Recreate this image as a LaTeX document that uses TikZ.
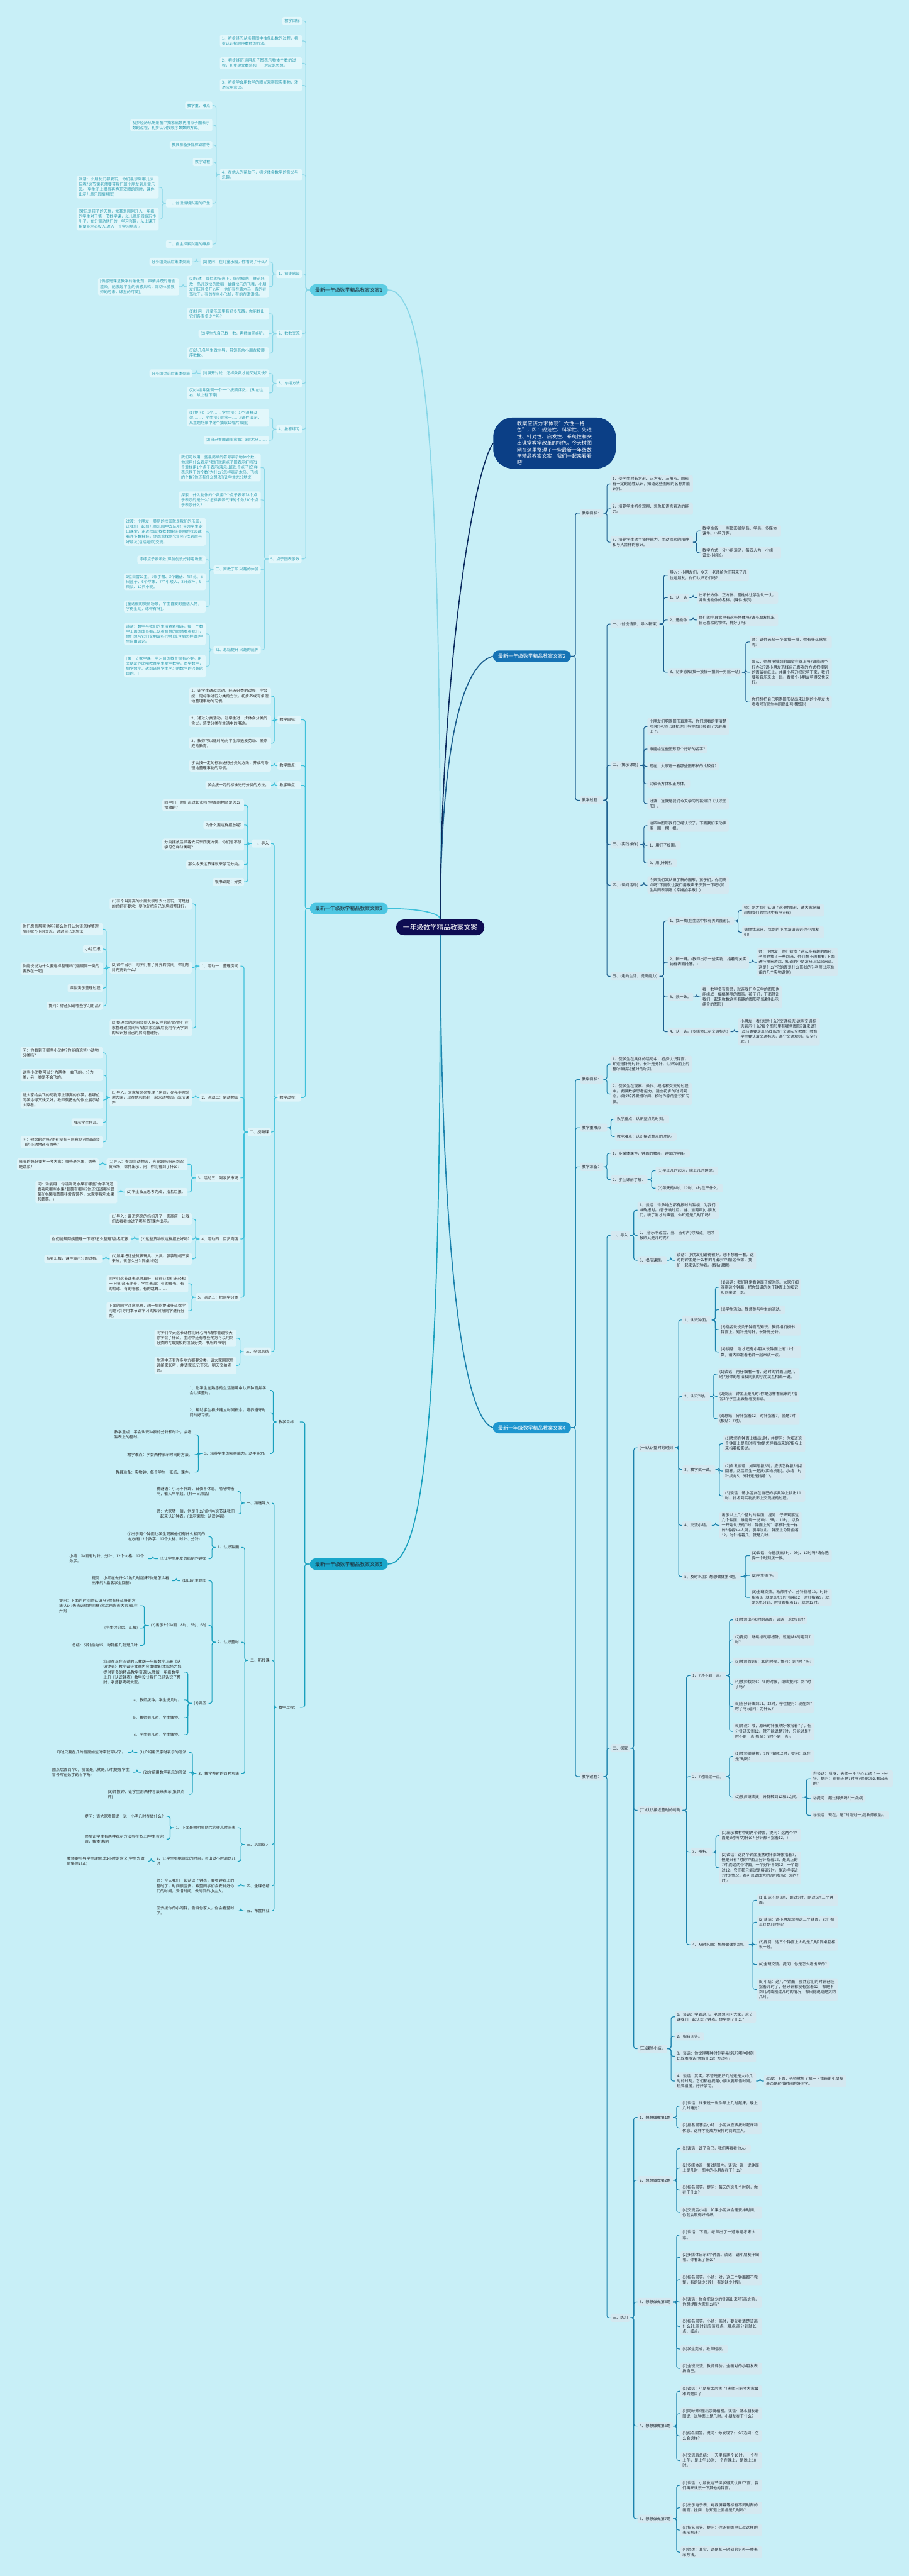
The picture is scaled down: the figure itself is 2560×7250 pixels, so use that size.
\documentclass[tikz,border=0pt]{standalone}
\usepackage{fontspec}
\setmainfont{Noto Sans CJK SC}
\XeTeXlinebreaklocale "zh"
\XeTeXlinebreakskip=0pt plus 1pt
\usetikzlibrary{calc}
\definecolor{bg}{HTML}{C8EFF7}
\definecolor{cnf}{HTML}{0E0C52}
\definecolor{inf}{HTML}{0B3F86}
\definecolor{inl}{HTML}{0A2A5E}
\definecolor{bf1}{HTML}{5CCDE3}
\definecolor{bf3}{HTML}{4CC6E2}
\definecolor{bf5}{HTML}{19A6CA}
\definecolor{bf2}{HTML}{1673B5}
\definecolor{bf4}{HTML}{1E96CF}
\definecolor{l1}{HTML}{88D6E7}
\definecolor{l3}{HTML}{3EC0DA}
\definecolor{l5}{HTML}{19A0BE}
\definecolor{l2}{HTML}{1B5E8E}
\definecolor{l4}{HTML}{1C82AD}
\definecolor{f1}{HTML}{E2F7FB}
\definecolor{t1}{HTML}{2A9BB0}
\definecolor{f3}{HTML}{DFF4F9}
\definecolor{t3}{HTML}{2B2B2B}
\definecolor{t5}{HTML}{262626}
\definecolor{f2}{HTML}{D4E8F0}
\definecolor{t2}{HTML}{1F2A33}
\newcommand\fsm{\fontsize{10.8pt}{14.4pt}\selectfont}
\newcommand\myL[5][]{\node[anchor=east,#1] (#2) at (#3,#4) {#5};}
\newcommand\myR[5][]{\node[anchor=west,#1] (#2) at (#3,#4) {#5};}
\newcommand\lkL[2]{\draw[lk] (#1.west) -- ($(#1.west)!.5!(#1.west -| #2.east)$) |- (#2.east);}
\newcommand\lkR[2]{\draw[lk] (#1.east) -- ($(#1.east)!.5!(#1.east -| #2.west)$) |- (#2.west);}
\begin{document}
\begin{tikzpicture}[x=1pt,y=-1pt,
 box/.style={font=\fsm,rounded corners=5pt,inner xsep=6pt,inner ysep=4.5pt,align=left,minimum height=23pt},
 w/.style={text width=#1pt},
 bnode/.style={font=\fontsize{14pt}{17pt}\selectfont,rounded corners=16pt,inner xsep=15pt,inner ysep=4pt,minimum height=32pt,align=center},
 mainln/.style={line width=3pt}]
\fill[bg] (0,0) rectangle (2560,7250);
\useasboundingbox (0,0) rectangle (2560,7250);

\node[fill=cnf,text=white,font=\fontsize{19pt}{22pt}\selectfont,rounded corners=21pt,minimum width=248pt,minimum height=44pt] (cn) at (1239,2610) {一年级数学精品教案文案};
\node[anchor=west,fill=inf,text=white,font=\fontsize{14pt}{18.5pt}\selectfont,text width=211pt,align=left,inner xsep=67pt,inner ysep=10pt,rounded corners=55pt] (intro) at (1388,1247) {教案应该力求体现"六性一特色"，即：规范性、科学性、先进性、针对性、启发性、系统性和突出课堂教学改革的特色。今天树图网在这里整理了一些最新一年级数学精品教案文案，我们一起来看看吧!};

%% ===== Branch 1 =====
\begin{scope}[every node/.style={box,fill=f1,text=t1},lk/.style={draw=l1,line width=2pt,rounded corners=6pt}]
\node[bnode,fill=bf1,text=t2,anchor=east] (a0) at (1092,816) {最新一年级数学精品教案文案1};
\myL{a1}{850}{59}{教学目标}
\myL[w=219]{a2}{850}{115}{1、初步经历从场景图中抽象出数的过程，初步认识按顺序数数的方法。}
\myL[w=219]{a3}{850}{178}{2、初步经历运用点子图表示物体个数的过程，初步建立数感和一一对应的思想。}
\myL[w=219]{a4}{850}{240}{3、初步学会用数学的眼光观察现实事物，渗透应用意识。}
\myL[w=219]{a5}{850}{492}{4、在他人的帮助下，初步体会数学的意义与乐趣。}
\myL{a6}{850}{771}{1、初步感知}
\myL{a7}{850}{939}{2、数数交流}
\myL{a8}{850}{1079}{3、总结方法}
\myL{a9}{850}{1208}{4、抢答练习}
\myL{a10}{849}{1573}{5、点子图表示数}
\foreach \c in {a1,a2,a3,a4,a5,a6,a7,a8,a9,a10} {\lkL{a0}{\c}}
\myL{a51}{598}{297}{教学重、难点}
\myL[w=219]{a52}{598}{352}{初步经历从场景图中抽象出数再用点子图表示数的过程，初步认识按顺序数数的方式。}
\myL{a53}{598}{408}{教具准备多媒体课件等}
\myL{a54}{598}{456}{教学过程}
\myL{a55}{598}{572}{一、创设情境兴趣的产生}
\myL{a56}{598}{687}{二、自主探索兴趣的维持}
\foreach \c in {a51,a52,a53,a54,a55,a56} {\lkL{a5}{\c}}
\myL[w=219]{a551}{447}{527}{谈话：小朋友们都爱玩，你们最想到哪儿去玩呢?这节课老师要带我们班小朋友到儿童乐园。(学生闭上眼后再睁开双眼的同时，课件出示儿童乐园情境图)}
\myL[w=219]{a552}{447}{617}{[爱玩是孩子的天性，尤其是刚刚升入一年级的学生对于第一节数学课，以儿童乐园游玩作引子，充分调动他们的'学习兴趣，从上课开始便能全心投入,进入一个学习状态]。}
\lkL{a55}{a551}\lkL{a55}{a552}
\myL{a61}{757}{737}{(1)提问：在儿童乐园，你看见了什么?}
\myL{a611}{541}{737}{分小组交流后集体交流}
\myL[w=218]{a62}{757}{807}{(2)描述：灿烂的阳光下，绿树成荫，鲜花怒放，鸟儿欢快的歌唱，蝴蝶快乐的飞舞，小朋友们玩得多开心呀，他们有在骑木马，有的在荡秋千，有的在坐小飞机，有的在滑滑梯。}
\myL[w=216]{a621}{504}{807}{[情感是课堂教学的催化剂，声情并茂的语言渲染，能激起学生的情感共鸣，深切体验教师的可亲，课堂的可爱]。}
\lkL{a6}{a61}\lkL{a6}{a62}\lkL{a61}{a611}\lkL{a62}{a621}
\myL[w=218]{a71}{757}{883}{(1)提问：儿童乐园里有好多东西，你能数出它们各有多少个吗?}
\myL{a72}{757}{939}{(2)学生先自己数一数，再数给同桌听。}
\myL[w=218]{a73}{757}{994}{(3)选几名学生做向导，带领其余小朋友按顺序数数。}
\lkL{a7}{a71}\lkL{a7}{a72}\lkL{a7}{a73}
\myL{a81}{757}{1051}{(1)展开讨论：怎样数数才能又对又快?}
\myL{a811}{541}{1051}{分小组讨论后集体交流}
\myL[w=218]{a82}{757}{1106}{(2)小结并强调一个一个按顺序数。(从左往右，从上往下等)}
\lkL{a8}{a81}\lkL{a8}{a82}\lkL{a81}{a811}
\myL[w=218]{a91}{757}{1176}{(1)提问：1个……学生接：1个滑梯;2架……，学生接2架秋千……(课件演示，从主题场景中逐个抽取10幅片段图)}
\myL{a92}{757}{1239}{(2)自己看图说图意如：3架木马……}
\lkL{a9}{a91}\lkL{a9}{a92}
\myL[w=218]{a101}{734}{1316}{我们可以用一些最简单的符号表示物体个数，你想用什么表示?我们就用点子图表示好吗?1个滑梯用1个点子表示(演示出现1个点子)怎样表示秋千的个数?为什么?怎样表示木马、飞机的个数?你还有什么想法?(让学生充分地说)}
\myL[w=218]{a102}{734}{1407}{探索：什么物体的个数用7个点子表示?8个点子表示的是什么?怎样表示气球的个数?10个点子表示什么?}
\myL{a103}{734}{1603}{三、寓教于乐 兴趣的体验}
\myL{a104}{734}{1829}{四、总结提升 兴趣的延伸}
\foreach \c in {a101,a102,a103,a104} {\lkL{a10}{\c}}
\myL[w=218]{a1031}{579}{1497}{过渡：小朋友，美丽的校园就是我们的乐园，让我们一起到儿童乐园中去玩吧!(带领学生走出课堂，走进校园)找找数娃娃美丽的校园藏着许多数娃娃，你愿意找到它们吗?找到后与好朋友(包括老师)交流。}
\myL{a1032}{579}{1575}{练练点子表示数(课前创设好特定场景)}
\myL[w=218]{a1033}{579}{1637}{1位白雪公主、2条手帕、3个蘑菇、4朵花、5只篮子、6个苹果、7个小矮人、8只茶杯、9只梨、10只小碗。}
\myL[w=218]{a1034}{579}{1707}{[童话般的美丽场景，学生喜爱的童话人物，学得生动，练得有味]。}
\foreach \c in {a1031,a1032,a1033,a1034} {\lkL{a103}{\c}}
\myL[w=218]{a1041}{579}{1784}{谈话：数学与我们的生活紧紧相连，每一个数学王国的成员都正眨着智慧的眼睛看着我们，你们想与它们交朋友吗?你打算今后怎样做?学生自由谈论。}
\myL[w=218]{a1042}{579}{1875}{[第一节数学课，学习目的教育很有必要。用交朋友作比喻教育学生爱学数学，愿学数学，想学数学。达到延伸学生学习的数学的兴趣的目的。]}
\lkL{a104}{a1041}\lkL{a104}{a1042}
\end{scope}

%% ===== Branch 3 =====
\begin{scope}[every node/.style={box,fill=f3,text=t3},lk/.style={draw=l3,line width=2pt,rounded corners=6pt}]
\node[bnode,fill=bf3,text=t2,anchor=east] (c0) at (1092,2557) {最新一年级数学精品教案文案3};
\myL{c1}{847}{2026}{教学目标：}
\myL{c2}{847}{2155}{教学重点：}
\myL{c3}{847}{2210}{教学难点：}
\myL{c4}{847}{3089}{教学过程：}
\foreach \c in {c1,c2,c3,c4} {\lkL{c0}{\c}}
\myL[w=218]{c11}{763}{1959}{1、让学生通过活动，经历分类的过程，学会按一定标准进行分类的方法，初步养成有条理地整理事物的习惯。}
\myL[w=218]{c12}{763}{2029}{2、通过分类活动，让学生进一步体会分类的含义，感受分类在生活中的用途。}
\myL[w=218]{c13}{763}{2092}{3、教师可以适时地向学生渗透爱劳动、爱家庭的教育。}
\foreach \c in {c11,c12,c13} {\lkL{c1}{\c}}
\myL[w=218]{c21}{763}{2155}{学会按一定的标准进行分类的方法，养成有条理地整理事物的习惯。}
\myL{c31}{763}{2210}{学会按一定的标准进行分类的方法。}
\lkL{c2}{c21}\lkL{c3}{c31}
\myL{c41}{763}{2374}{一、导入}
\myL{c42}{763}{3186}{二、授新课}
\myL{c43}{763}{3804}{三、全课总结}
\foreach \c in {c41,c42,c43} {\lkL{c4}{\c}}
\myL[w=218]{c411}{687}{2266}{同学们，你们逛过超市吗?里面的物品是怎么摆放的?}
\myL{c412}{687}{2322}{为什么要这样摆放呢?}
\myL[w=218]{c413}{687}{2377}{分类摆放后顾客去买东西更方便。你们想不想学习怎样分类呢?}
\myL{c414}{687}{2433}{那么今天这节课就来学习分类。}
\myL{c415}{687}{2482}{板书课题：分类}
\foreach \c in {c411,c412,c413,c414,c415} {\lkL{c41}{\c}}
\myL{c421}{677}{2719}{1、活动一：整理房间}
\myL{c422}{677}{3089}{2、活动二：到动物园}
\myL{c423}{677}{3315}{3、活动三：到农贸市场}
\myL{c424}{677}{3487}{4、活动四：百货商店}
\myL{c425}{677}{3651}{5、活动五：把同学分类}
\foreach \c in {c421,c422,c423,c424,c425} {\lkL{c42}{\c}}
\myL[w=219]{c4211}{540}{2544}{(1)有个叫亮亮的小朋友很想去公园玩，可是他的妈妈有要求：要他先把自己的房间整理好。}
\myL[w=219]{c4212}{540}{2723}{(2)课件出示：同学们看了亮亮的房间，你们想对亮亮说什么?}
\myL[w=219]{c4213}{540}{2893}{(3)整理后的房间会给人什么样的感觉?你们在家整理过房间吗?请大家回去后能用今天学到的知识把自己的房间整理好。}
\foreach \c in {c4211,c4212,c4213} {\lkL{c421}{\c}}
\myL[w=219]{c42121}{289}{2615}{你们愿意帮帮他吗?那么你们认为该怎样整理房间呢?(小组交流，说说自己的想法)}
\myL{c42122}{289}{2671}{小组汇报}
\myL[w=219]{c42123}{289}{2726}{你能说说为什么要这样整理吗?(强调同一类的要放在一起)}
\myL{c42124}{289}{2781}{课件演示整理过程}
\myL{c42125}{289}{2831}{提问：你还知道哪些学习用品?}
\foreach \c in {c42121,c42122,c42123,c42124,c42125} {\lkL{c4212}{\c}}
\myL[w=219]{c4221}{540}{3089}{(1)导入。大家帮亮亮整理了房间，亮亮非常感谢大家，现在他和妈妈一起来动物园。出示课件}
\lkL{c422}{c4221}
\myL[w=219]{c42211}{289}{2963}{问：你看到了哪些小动物?你能给这些小动物分类吗?}
\myL[w=219]{c42212}{289}{3026}{这些小动物可以分为两类，会飞的。分为一类，另一类是不会飞的。}
\myL[w=219]{c42213}{289}{3096}{请大家给会飞的动物穿上漂亮的衣裳。看哪位同学涂得又快又好，教师就把他的作业展示给大家看。}
\myL{c42214}{289}{3159}{展示学生作品。}
\myL[w=219]{c42215}{289}{3214}{问：他涂的对吗?你有没有不同意见?你知道会飞的小动物还有哪些?}
\foreach \c in {c42211,c42212,c42213,c42214,c42215} {\lkL{c4221}{\c}}
\myL[w=216]{c4231}{528}{3277}{(1)导入：参观完动物园，亮亮跟妈妈来到农贸市场，课件出示，问：你们看到了什么?}
\myL[w=218]{c42311}{278}{3277}{亮亮的妈妈要考一考大家：哪些是水果，哪些是蔬菜?}
\myL{c4232}{528}{3355}{(2)学生独立思考完成，指名汇报。}
\myL[w=218]{c42321}{330}{3355}{问：谁能用一句话说说水果有哪些?你平时还喜欢吃哪些水果?蔬菜有哪些?你还知道哪些蔬菜?(水果和蔬菜非常有营养，大家要我吃水果和蔬菜。)}
\lkL{c423}{c4231}\lkL{c423}{c4232}\lkL{c4231}{c42311}\lkL{c4232}{c42321}
\myL[w=219]{c4241}{540}{3431}{(1)导入：最近亮亮的妈妈开了一家商店，让我们去看看她进了哪些货?课件出示。}
\myL{c4242}{540}{3487}{(2)这些货物就这样摆放好吗?}
\myL{c42421}{368}{3487}{你们能帮阿姨整理一下吗?怎么整理?指名汇报}
\myL[w=219]{c4243}{540}{3543}{(3)如果把这些货按玩具、文具、服装鞋帽三类来分，该怎么分?(同桌讨论)}
\myL{c42431}{288}{3543}{指名汇报，课件演示分的过程。}
\lkL{c424}{c4241}\lkL{c424}{c4242}\lkL{c424}{c4243}\lkL{c4242}{c42421}\lkL{c4243}{c42431}
\myL[w=218]{c4251}{530}{3613}{同学们这节课表现得真好，现在让我们来轻松一下吧!音乐伴奏，学生表演：有的看书、有的拍球、有的唱歌、有的跳舞……}
\myL[w=218]{c4252}{530}{3689}{下面的同学注意观察，想一想能提出什么数学问题?引导用本节课学习的知识把同学进行分类。}
\lkL{c425}{c4251}\lkL{c425}{c4252}
\myL[w=218]{c431}{665}{3766}{同学们今天这节课你们开心吗?请你说说今天你学会了什么。生活中还有哪些地方可以用到分类的?(如我校的垃圾分类、书店的书等)}
\myL[w=218]{c432}{665}{3843}{生活中还有许多地方都要分类，请大家回家后说给家长听，并请家长记下来，明天交给老师。}
\lkL{c43}{c431}\lkL{c43}{c432}
\end{scope}

%% ===== Branch 5 =====
\begin{scope}[every node/.style={box,text=t5},lk/.style={draw=l5,line width=2pt,rounded corners=6pt}]
\node[bnode,fill=bf5,text=t2,anchor=east] (e0) at (1092,4402) {最新一年级数学精品教案文案5};
\myL{e1}{844}{4002}{教学目标：}
\myL{e2}{844}{4805}{教学过程：}
\lkL{e0}{e1}\lkL{e0}{e2}
\myL[w=220]{e11}{760}{3913}{1、让学生在熟悉的生活情境中认识钟面并学会认读整时。}
\myL[w=220]{e12}{760}{3976}{2、帮助学生初步建立时间概念，培养遵守时间的好习惯。}
\myL{e13}{760}{4091}{3、培养学生的观察能力，动手能力。}
\foreach \c in {e11,e12,e13} {\lkL{e1}{\c}}
\myL[w=220]{e131}{548}{4038}{教学重点：学会认识钟表的分针和时针，会看钟表上的整时。}
\myL{e132}{548}{4094}{教学难点：学会两种表示时间的方法。}
\myL{e133}{548}{4143}{教具准备：实物钟、每个学生一张纸、课件。}
\foreach \c in {e131,e132,e133} {\lkL{e13}{\c}}
\myL{e21}{765}{4230}{一、猜谜导入}
\myL{e22}{765}{4673}{二、新授课}
\myL{e23}{765}{5191}{三、巩固练习}
\myL{e24}{765}{5308}{四、全课总结}
\myL{e25}{765}{5378}{五、布置作业}
\foreach \c in {e21,e22,e23,e24,e25} {\lkL{e2}{\c}}
\myL[w=222]{e211}{669}{4198}{猜谜语：小马不停蹄，日夜不休息。嘀嗒嘀嗒响，催人早早起。(打一日用品)}
\myL[w=222]{e212}{669}{4261}{师：大家猜一猜，他是什么?(时钟)这节课我们一起来认识钟表。(出示课题：认识钟表)}
\lkL{e21}{e211}\lkL{e21}{e212}
\myL{e221}{679}{4355}{1、认识钟面}
\myL{e222}{679}{4622}{2、认识整时}
\myL{e223}{679}{4991}{3、教学整时的两种写法}
\foreach \c in {e221,e222,e223} {\lkL{e22}{\c}}
\myL[w=222]{e2211}{587}{4325}{①出示两个钟面让学生观察他们有什么相同的地方(有12个数字、12个大格、时针、分针)}
\myL{e2212}{587}{4387}{②让学生用发的纸制作钟面}
\myL[w=214]{e22121}{416}{4387}{小结：钟面有时针、分针、12个大格、12个数字。}
\lkL{e221}{e2211}\lkL{e221}{e2212}\lkL{e2212}{e22121}
\myL{e2221}{587}{4449}{(1)出示主题图}
\myL[w=220]{e22211}{485}{4449}{提问：小红在做什么?她几时起床?你是怎么看出来的?(指名学生回答)}
\myL{e2222}{587}{4575}{(2)出示3个钟面：8时、3时、6时}
\myL{e2223}{587}{4794}{(3)巩固}
\foreach \c in {e2221,e2222,e2223} {\lkL{e222}{\c}}
\lkL{e2221}{e22211}
\myL[w=221]{e22221}{394}{4519}{提问：下面的时间你认识吗?你有什么好的方法认识?先告诉你的同桌?然后再告诉大家?现在开始}
\myL{e22222}{394}{4582}{(学生讨论后，汇报)}
\myL{e22223}{394}{4631}{总结：分针指向12，时针指几就是几时}
\foreach \c in {e22221,e22222,e22223} {\lkL{e2222}{\c}}
\myL[w=221]{e22231}{518}{4706}{您现在正在阅读的人教版一年级数学上册《认识钟表》教学设计文章内容由收集!本站将为您提供更多的精品教学资源!人教版一年级数学上册《认识钟表》教学设计我们已经认识了整时，老师要考考大家。}
\myL{e22232}{518}{4784}{a、教师拨钟，学生说几时。}
\myL{e22233}{518}{4834}{b、教师说几时，学生拨钟。}
\myL{e22234}{518}{4882}{c、学生说几时，学生拨钟。}
\foreach \c in {e22231,e22232,e22233,e22234} {\lkL{e2223}{\c}}
\myL{e2231}{531}{4932}{(1)介绍用汉字时表示的写法}
\myL{e22311}{360}{4932}{几时只要在几的后面加些时字就可以了。}
\myL{e2232}{531}{4988}{(2)介绍用数字表示的写法}
\myL[w=221]{e22321}{374}{4988}{圆点后面两个0，前面是几就是几时(提醒学生冒号写在数字的右下角)}
\myL[w=221]{e2233}{531}{5050}{(3)师拨钟，让学生用两种写法来表示(集体点评)}
\foreach \c in {e2231,e2232,e2233} {\lkL{e223}{\c}}
\lkL{e2231}{e22311}\lkL{e2232}{e22321}
\myL{e231}{669}{5144}{1、下面是明明星期六的作息时间表}
\myL[w=224]{e2311}{469}{5112}{提问：请大家看图说一说，小明几时在做什么?}
\myL[w=224]{e2312}{469}{5176}{然后让学生有两种表示方法写在书上(学生写完后，集体讲评)}
\myL[w=222]{e232}{669}{5238}{2、让学生根据给出的时间，写出过小时后是几时}
\myL[w=221]{e2321}{416}{5238}{教师要引导学生理解过1小时的含义(学生先做后集体订正)}
\lkL{e23}{e231}\lkL{e23}{e232}\lkL{e231}{e2311}\lkL{e231}{e2312}\lkL{e232}{e2321}
\myL[w=222]{e241}{669}{5308}{师：今天我们一起认识了钟表，会看钟表上的整时了。时间很宝贵，希望同学们会安排好你们的时间，爱惜时间，做时间的小主人。}
\myL[w=222]{e251}{669}{5378}{回去拨你的小闹钟，告诉你家人，你会看整时了。}
\lkL{e24}{e241}\lkL{e25}{e251}
\end{scope}

%% ===== Branch 2 =====
\begin{scope}[every node/.style={box,fill=f2,text=t2},lk/.style={draw=l2,line width=2pt,rounded corners=6pt}]
\node[bnode,fill=bf2,text=white,anchor=west] (b0) at (1387,1847) {最新一年级数学精品教案文案2};
\myR{b1}{1632}{1444}{教学目标：}
\myR{b2}{1632}{2252}{教学过程：}
\lkR{b0}{b1}\lkR{b0}{b2}
\myR[w=220]{b11}{1718}{1362}{1、使学生对长方形、正方形、三角形、圆形有一定的感性认识，知道这些图形的名称并能识别。}
\myR[w=220]{b12}{1718}{1432}{2、培养学生初步观察、想象和语言表达的能力。}
\myR[w=220]{b13}{1718}{1526}{3、培养学生动手操作能力、主动探索的精神和与人合作的意识。}
\foreach \c in {b11,b12,b13} {\lkR{b1}{\c}}
\myR[w=215]{b131}{1971}{1494}{教学准备：一些图形纸制品、学具、多媒体课件、小剪刀等。}
\myR[w=215]{b132}{1971}{1556}{教学方式：分小组活动，每四人为一小组，设立小组长。}
\lkR{b13}{b131}\lkR{b13}{b132}
\myR{b21}{1718}{1756}{一、(创设情景，导入新课)}
\myR{b22}{1718}{2154}{二、(揭示课题)}
\myR{b23}{1718}{2377}{三、(实践操作)}
\myR{b24}{1718}{2491}{四、(课间活动)}
\myR{b25}{1718}{2748}{五、(走向生活，提高能力)}
\foreach \c in {b21,b22,b23,b24,b25} {\lkR{b2}{\c}}
\myR[w=217]{b211}{1879}{1619}{导入：小朋友们，今天，老师给你们带来了几位老朋友，你们认识它们吗?}
\myR{b212}{1879}{1682}{1、认一认}
\myR[w=217]{b2121}{1961}{1682}{出示长方体、正方体、圆柱体让学生认一认，并说出物体的名称。(课件出示)}
\myR{b213}{1879}{1745}{2、选物体}
\myR[w=217]{b2131}{1961}{1745}{你们的学具盒里有这些物体吗?请小朋友挑出自己喜欢的物体，挑好了吗?}
\myR{b214}{1879}{1892}{3、初步感知(摸一摸描一描剪一剪贴一贴)}
\foreach \c in {b211,b212,b213,b214} {\lkR{b21}{\c}}
\lkR{b212}{b2121}\lkR{b213}{b2131}
\myR[w=219]{b2141}{2110}{1807}{师：请你选择一个面摸一摸，你有什么感觉呢?}
\myR[w=219]{b2142}{2110}{1892}{那么，你想把摸到的面留在纸上吗?谁能想个好办法?请小朋友选择自己喜欢的方式把摸到的面留在纸上，并用小剪刀把它剪下来，我们要听音乐来比一比，看哪个小朋友剪得又快又好。}
\myR[w=219]{b2143}{2110}{1976}{你们想把自己剪得图形贴出来让别的小朋友也看看吗?(师生共同贴出剪得图形)}
\foreach \c in {b2141,b2142,b2143} {\lkR{b214}{\c}}
\myR[w=217]{b221}{1822}{2045}{小朋友们剪得图形真漂亮，你们想看的更清楚吗?看!老师已经把你们剪得图形移到了大屏幕上了。}
\myR{b222}{1822}{2108}{谁能给这些图形取个好听的名字?}
\myR{b223}{1822}{2157}{现在，大家看一看那些图形长的比较像?}
\myR{b224}{1822}{2206}{比较长方体和正方体。}
\myR[w=217]{b225}{1822}{2262}{过渡：这就是我们今天学习的新知识《认识图形》。}
\foreach \c in {b221,b222,b223,b224,b225} {\lkR{b22}{\c}}
\myR[w=217]{b231}{1822}{2324}{这四种图形我们已经认识了，下面我们来动手围一围，摆一摆。}
\myR{b232}{1822}{2379}{1、用钉子板围。}
\myR{b233}{1822}{2429}{2、用小棒摆。}
\foreach \c in {b231,b232,b233} {\lkR{b23}{\c}}
\myR[w=217]{b241}{1822}{2491}{今天我们又认识了新的图形，孩子们，你们高兴吗?下面就让我们用歌声来庆贺一下吧!(师生共同表演唱《幸福拍手歌》)}
\lkR{b24}{b241}
\myR{b251}{1879}{2592}{1、找一找(在生活中找有关的图形)。}
\myR[w=219]{b2511}{2088}{2562}{师：刚才我们认识了这4种图形，请大家仔细想想我们的生活中有吗?(有)}
\myR[w=219]{b2512}{2088}{2624}{请你找出来，找到的小朋友请告诉你小朋友们!}
\myR[w=217]{b252}{1879}{2708}{2、辨一辨。(教师出示一些实物，指着有关实物有表面抢答。)}
\myR[w=218]{b2521}{2129}{2708}{师：小朋友，你们都找了这么多有趣的图形，老师也找了一些回来，你们想不想看看?下面进行抢答游戏，知道的小朋友马上站起来说。这是什么?它的面是什么形状的?(老师出示准备的几个实物课件)}
\myR{b253}{1879}{2806}{3、数一数。}
\myR[w=217]{b2531}{1971}{2806}{看，数学多有意思，就连我们今天学的图形也能组成一幅幅美丽的图画，孩子们，下面就让我们一起来数数这些有趣的图形吧!(课件出示组合的图形)}
\myR{b254}{1879}{2904}{4、认一认。(多媒体出示交通标志)}
\myR[w=217]{b2541}{2078}{2904}{小朋友，看!这是什么?(交通标志)这些交通标志表示什么?每个图形里有哪些图形?谁来说?(过马路要走斑马线)(进行交通安全教育：教育学生要认清交通标志，遵守交通规则，安全行驶。)}
\foreach \c in {b251,b252,b253,b254} {\lkR{b25}{\c}}
\lkR{b251}{b2511}\lkR{b251}{b2512}\lkR{b252}{b2521}\lkR{b253}{b2531}\lkR{b254}{b2541}
\end{scope}

%% ===== Branch 4 =====
\begin{scope}[every node/.style={box,fill=f2,text=t2},lk/.style={draw=l4,line width=2pt,rounded corners=6pt}]
\node[bnode,fill=bf4,text=white,anchor=west] (d0) at (1387,4018) {最新一年级数学精品教案文案4};
\myR{d1}{1632}{3038}{教学目标：}
\myR{d2}{1632}{3174}{教学重难点：}
\myR{d3}{1632}{3284}{教学准备：}
\myR{d4}{1632}{5000}{教学过程：}
\foreach \c in {d1,d2,d3,d4} {\lkR{d0}{\c}}
\myR[w=217]{d11}{1718}{2995}{1、使学生在具体的活动中，初步认识钟面，知道短针是时针，长针是分针，认识钟面上的整时和接近整时的时刻。}
\myR[w=217]{d12}{1718}{3079}{2、使学生在观察、操作、概括和交流的过程中，发展数学思考能力，建立初步的时间观念，初步培养爱惜时间、按时作息的意识和习惯。}
\lkR{d1}{d11}\lkR{d1}{d12}
\myR{d21}{1730}{3150}{教学重点：认识整点的时刻。}
\myR{d22}{1730}{3199}{教学难点：认识接近整点的时刻。}
\lkR{d2}{d21}\lkR{d2}{d22}
\myR{d31}{1718}{3246}{1、多媒体课件，钟面的教具，钟面的学具。}
\myR{d32}{1718}{3320}{2、学生课前了解：}
\myR{d321}{1845}{3295}{(1)早上几时起床，晚上几时睡觉。}
\myR{d322}{1845}{3344}{(2)每天的8时、12时、4时在干什么。}
\lkR{d3}{d31}\lkR{d3}{d32}\lkR{d32}{d321}\lkR{d32}{d322}
\myR{d41}{1718}{3477}{一、导入}
\myR{d42}{1718}{4920}{二、探究}
\myR{d43}{1718}{6523}{三、练习}
\foreach \c in {d41,d42,d43} {\lkR{d4}{\c}}
\myR[w=217]{d411}{1794}{3406}{1、谈话：许多地方都有报时的钟楼，为我们准确报时。(音乐响过后，当、当两声)小朋友们，听了刚才的声音，你知道是几时了吗?}
\myR[w=217]{d412}{1794}{3477}{2、(音乐响过后，当、当七声)你知道，刚才报的又是几时呢?}
\myR{d413}{1794}{3547}{3、揭示课题。}
\myR[w=217]{d4131}{1899}{3547}{谈话：小朋友们说得很好。想不想看一看，这时的钟面是什么样的?(出示钟面)这节课，我们一起来认识钟表。(板贴课题)}
\foreach \c in {d411,d412,d413} {\lkR{d41}{\c}}
\lkR{d413}{d4131}
\myR{d421}{1794}{4075}{(一)认识整时的时刻}
\myR{d422}{1794}{5095}{(二)认识接近整时的时刻}
\myR{d423}{1794}{5766}{(三)课堂小结。}
\foreach \c in {d421,d422,d423} {\lkR{d42}{\c}}
\myR{d4211}{1920}{3715}{1、认识钟面。}
\myR{d4212}{1920}{3930}{2、认识7时。}
\myR{d4213}{1920}{4136}{3、教学试一试。}
\myR{d4214}{1920}{4293}{4、交流小结。}
\myR{d4215}{1920}{4437}{5、及时巩固：想想做做第4题。}
\foreach \c in {d4211,d4212,d4213,d4214,d4215} {\lkR{d421}{\c}}
\myR[w=219]{d42111}{2023}{3623}{(1)谈话：我们经常看钟面了解时间。大家仔细观察这个钟面，把你知道的关于钟面上的知识和同桌说一说。}
\myR{d42112}{2023}{3686}{(2)学生活动，教师参与学生的活动。}
\myR[w=219]{d42113}{2023}{3742}{(3)指名说说关于钟面的知识。教师相机板书：钟面上，短针是时针，长针是分针。}
\myR[w=219]{d42114}{2023}{3805}{(4)谈话：刚才还有小朋友说钟面上有12个数，请大家跟着老师一起来读一读。}
\foreach \c in {d42111,d42112,d42113,d42114} {\lkR{d4211}{\c}}
\myR[w=219]{d42121}{2019}{3867}{(1)谈话：再仔细看一看，这时的钟面上是几时?把你的想法和同桌的小朋友互相说一说。}
\myR[w=219]{d42122}{2019}{3930}{(2)交流：钟面上是几时?你是怎样看出来的?指名2个学生上去指着投影说。}
\myR[w=219]{d42123}{2019}{3993}{(3)总结：分针指着12，时针指着7，就是7时(板贴：7时)。}
\foreach \c in {d42121,d42122,d42123} {\lkR{d4212}{\c}}
\myR[w=219]{d42131}{2035}{4063}{(1)教师在钟面上拨出1时，并提问：你知道这个钟面上是几时吗?你是怎样看出来的?指名上来指着投影说。}
\myR[w=219]{d42132}{2035}{4140}{(2)启发谈话：如果想拨5时，应该怎样拨?指名回答，然后师生一起拨(实物投影)。小结：时针拨向5，分针还是指着12。}
\myR[w=219]{d42133}{2035}{4210}{(3)谈话：请小朋友在自己的学具钟上拨出11时。指名到实物投影上交流拨的过程。}
\foreach \c in {d42131,d42132,d42133} {\lkR{d4213}{\c}}
\myR[w=219]{d42141}{2025}{4293}{出示以上几个整时的钟面，提问：仔细观察这几个钟面，谁能说一说1时、5时、11时，以及一开始认识的7时，钟面上的'哪根针是一样的?指名3-4人说，引导说出：钟面上分针指着12，时针指着几，就是几时。}
\lkR{d4214}{d42141}
\myR[w=219]{d42151}{2110}{4378}{(1)谈话：你能拨出3时、9时、12时吗?请你选择一个时刻拨一拨。}
\myR{d42152}{2110}{4434}{(2)学生操作。}
\myR[w=219]{d42153}{2110}{4496}{(3)全班交流。教师评价：分针指着12，时针指着3，就是3时;分针指着12，时针指着9，就是9时;分针、时针都指着12，就是12时。}
\foreach \c in {d42151,d42152,d42153} {\lkR{d4215}{\c}}
\myR{d4221}{1943}{4716}{1、7时不到一点。}
\myR{d4222}{1943}{5000}{2、7时刚过一点。}
\myR{d4223}{1943}{5212}{3、辨析。}
\myR{d4224}{1943}{5473}{4、及时巩固：想想做做第3题。}
\foreach \c in {d4221,d4222,d4223,d4224} {\lkR{d422}{\c}}
\myR{d42211}{2063}{4559}{(1)教师出示6时的画面。谈话：这是几时?}
\myR[w=217]{d42212}{2063}{4615}{(2)提问：继续拨动哪根针，就能从6时走到7时?}
\myR[w=217]{d42213}{2063}{4677}{(3)教师拨到6：30的时候，提问：到7时了吗?}
\myR[w=217]{d42214}{2063}{4740}{(4)教师拨到6：45的时候，继续提问：到7时了吗?}
\myR[w=217]{d42215}{2063}{4803}{(5)当分针拨到11、12时，停住提问：现在到7时了吗?追问：为什么?}
\myR[w=217]{d42216}{2063}{4873}{(6)师述：哦，原来时针虽然好像指着7了，但分针还没到12。就不能说是7时，只能说是7时不到一点(板贴：7时不到一点)。}
\foreach \c in {d42211,d42212,d42213,d42214,d42215,d42216} {\lkR{d4221}{\c}}
\myR[w=217]{d42221}{2063}{4943}{(1)教师继续拨，分针指向12时，提问：现在是7时吗?}
\myR{d42222}{2063}{5058}{(2)教师继续拨，分针转到12和1之间。}
\lkR{d4222}{d42221}\lkR{d4222}{d42222}
\myR[w=219]{d422221}{2282}{5006}{①谈话：哎呀，老师一不小心又动了一下分针。提问：现在还是7时吗?你是怎么看出来的?}
\myR{d422222}{2282}{5062}{②提问：超过得多吗?(一点点)}
\myR{d422223}{2282}{5109}{③谈话：现在，是7时刚过一点(教师板贴)。}
\foreach \c in {d422221,d422222,d422223} {\lkR{d42222}{\c}}
\myR[w=217]{d42231}{2025}{5166}{(1)出示教材中的两个钟面，提问：这两个钟面是7时吗?为什么?(分针都不指着12。)}
\myR[w=217]{d42232}{2025}{5257}{(2)谈话：这两个钟面虽然时针都好像指着7，但是只有7时的钟面上分针指着12，是真正的7时;而这两个钟面，一个分针不到12，一个刚过12，它们都只能说是接近7时。像这样接近7时的情况，都可以说成大约7时(板贴：大约7时)。}
\lkR{d4223}{d42231}\lkR{d4223}{d42232}
\myR[w=217]{d42241}{2130}{5348}{(1)出示不到8时、刚过9时、刚过5时三个钟面。}
\myR[w=217]{d42242}{2130}{5410}{(2)谈话：请小朋友观察这三个钟面，它们都正好是几时吗?}
\myR[w=217]{d42243}{2130}{5473}{(3)提问：这三个钟面上大约是几时?同桌互相说一说。}
\myR{d42244}{2130}{5529}{(4)全班交流。提问：你是怎么看出来的?}
\myR[w=217]{d42245}{2130}{5599}{(5)小结：这几个钟面，虽然它们的时针已经指着几时了，但分针都没有指着12，都是不到几时或刚过几时的情况，都只能说成是大约几时。}
\foreach \c in {d42241,d42242,d42243,d42244,d42245} {\lkR{d4224}{\c}}
\myR[w=217]{d4231}{1899}{5676}{1、谈话：学到这儿。老师想问问大家，这节课我们一起认识了钟表。你学到了什么?}
\myR{d4232}{1899}{5731}{2、指名回答。}
\myR[w=217]{d4233}{1899}{5787}{3、谈话：你觉得哪种时刻容易辨认?哪种时刻比较难辨认?你有什么好方法吗?}
\myR[w=217]{d4234}{1899}{5857}{4、谈话：其实，不管是正好几时还是大约几时的时刻，它们都在提醒小朋友要珍惜时间，热爱祖国，好好学习。}
\myR[w=219]{d42341}{2150}{5857}{过渡：下面，老师就想了解一下我班的小朋友是否是珍惜时间的好同学。}
\foreach \c in {d4231,d4232,d4233,d4234} {\lkR{d423}{\c}}
\lkR{d4234}{d42341}
\myR{d431}{1794}{5959}{1、想想做做第1题}
\myR{d432}{1794}{6136}{2、想想做做第2题}
\myR{d433}{1794}{6479}{3、想想做做第5题}
\myR{d434}{1794}{6828}{4、想想做做第6题}
\myR{d435}{1794}{7089}{5、想想做做第7题}
\foreach \c in {d431,d432,d433,d434,d435} {\lkR{d43}{\c}}
\myR[w=217]{d4311}{1915}{5927}{(1)谈话：谁来说一说你早上几时起床，晚上几时睡觉?}
\myR[w=217]{d4312}{1915}{5989}{(2)指名回答后小结：小朋友应该按时起床和休息。这样才能成为安排时间的主人。}
\lkR{d431}{d4311}\lkR{d431}{d4312}
\myR{d4321}{1915}{6047}{(1)谈话：说了自己，我们再看看他人。}
\myR[w=217]{d4322}{1915}{6102}{(2)多媒体逐一第2题图片。谈话：说一说钟面上是几时，图中的小朋友在干什么?}
\myR[w=217]{d4323}{1915}{6164}{(3)指名回答。提问：每天的这几个时刻，你在干什么?}
\myR[w=217]{d4324}{1915}{6227}{(4)交流后小结：如果小朋友合理安排时间，你就会取得好成绩。}
\foreach \c in {d4321,d4322,d4323,d4324} {\lkR{d432}{\c}}
\myR[w=217]{d4331}{1915}{6290}{(1)谈话：下面，老师出了一道难题考考大家。}
\myR[w=217]{d4332}{1915}{6353}{(2)多媒体出示3个钟面。谈话：请小朋友仔细看。你看出了什么?}
\myR[w=217]{d4333}{1915}{6416}{(3)指名回答。小结：对，这三个钟面都不完整，有的缺少分针，有的缺少时针。}
\myR[w=217]{d4334}{1915}{6479}{(4)谈话：你会把缺少的针画出来吗?画之前，你想提醒大家什么吗?}
\myR[w=217]{d4335}{1915}{6548}{(5)指名回答。小结：画时，要先看清楚该画什么针;画时针应该短点、粗点;画分针就长点、细点。}
\myR{d4336}{1915}{6611}{(6)学生完成，教师巡视。}
\myR[w=217]{d4337}{1915}{6666}{(7)全班交流，教师评价，全画对的小朋友表扬自己。}
\foreach \c in {d4331,d4332,d4333,d4334,d4335,d4336,d4337} {\lkR{d433}{\c}}
\myR[w=217]{d4341}{1915}{6730}{(1)谈话：小朋友太厉害了!老师只能考大家最难的题目了!}
\myR[w=217]{d4342}{1915}{6793}{(2)同时第6题出示两幅图。谈话：请小朋友看图说一说钟面上是几时，小朋友在干什么?}
\myR[w=217]{d4343}{1915}{6856}{(3)指名回答。提问：你发现了什么?追问：怎么会这样?}
\myR[w=217]{d4344}{1915}{6925}{(4)交流后总结：一天里有两个10时，一个在上午，是上午10时;一个在晚上，是晚上10时。}
\foreach \c in {d4341,d4342,d4343,d4344} {\lkR{d434}{\c}}
\myR[w=217]{d4351}{1915}{6995}{(1)谈话：小朋友这节课学得真认真!下面，我们再来认识一下其他的钟面。}
\myR[w=217]{d4352}{1915}{7058}{(2)出示电子表、电视屏幕等标有不同时刻的画面。提问：你知道上面各是几时吗?}
\myR[w=217]{d4353}{1915}{7121}{(3)指名回答。提问：你还在哪里见过这样的表示方法?}
\myR[w=217]{d4354}{1915}{7183}{(4)师述：其实，这是某一时刻的另外一种表示方法。}
\foreach \c in {d4351,d4352,d4353,d4354} {\lkR{d435}{\c}}
\end{scope}

%% ===== main curves =====
\draw[mainln,draw=l1] (cn.north) .. controls (1241,1300) and (1200,816) .. (a0.east);
\draw[mainln,draw=l3] (cn.north) .. controls (1241,2570) and (1180,2557) .. (c0.east);
\draw[mainln,draw=l5] (cn.south) .. controls (1241,3900) and (1200,4402) .. (e0.east);
\draw[mainln,draw=l4] (cn.south) .. controls (1241,3500) and (1300,3990) .. (d0.west);
\draw[mainln,draw=l2] (cn.north) .. controls (1241,2100) and (1300,1870) .. (b0.west);
\draw[mainln,draw=inl] (cn.north) .. controls (1241,1900) and (1330,1330) .. (intro.west);
\end{tikzpicture}
\end{document}
